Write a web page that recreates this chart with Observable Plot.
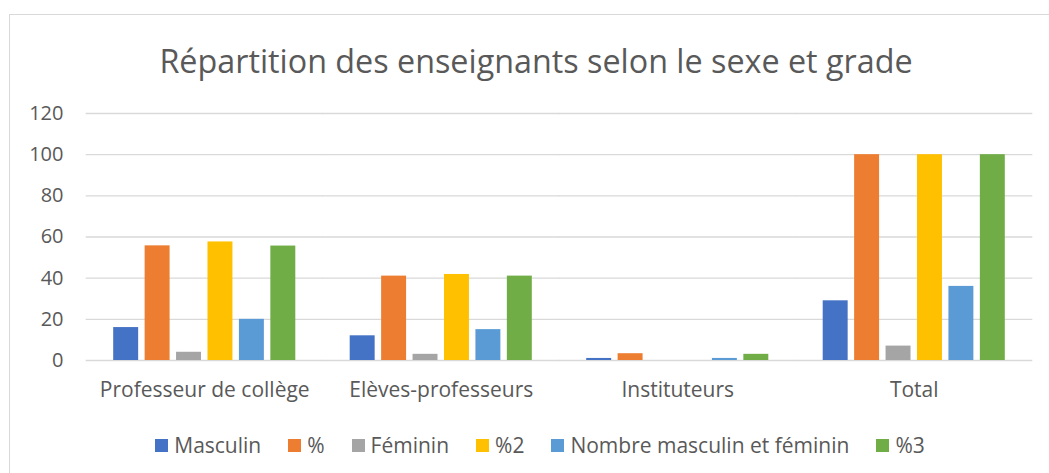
<!DOCTYPE html>
<html>
<head>
<meta charset="utf-8">
<script src="https://cdn.jsdelivr.net/npm/d3@7"></script>
<script src="https://cdn.jsdelivr.net/npm/@observablehq/plot@0.6"></script>
<style>
  html, body { margin: 0; padding: 0; background: #fff; }
  #wrap { position: relative; width: 1049px; height: 473px; overflow: hidden; font-family: "Open Sans", sans-serif; color: #595959; }
  #frame { position: absolute; left: 9px; top: 14px; width: 1100px; height: 500px; border: 1.3px solid #d9d9d9; box-sizing: border-box; }
  #title { position: absolute; left: 0; width: 1072px; top: 38px; text-align: center; font-size: 32.3px; line-height: 44px; color: #595959; }
  #chart { position: absolute; left: 0; top: 0; }
  #legend { position: absolute; left: 0; width: 1080px; top: 430px; display: flex; justify-content: center; font-size: 21px; line-height: 30px; color: #595959; }
  .item { display: flex; align-items: center; margin: 0 13.5px; }
  .sw { width: 13px; height: 13px; margin-right: 6px; }
</style>
</head>
<body>
<div id="wrap">
  <div id="frame"></div>
  <div id="title"></div>
  <div id="chart"></div>
  <div id="legend"></div>
</div>
<script>
const titleText = "Répartition des enseignants selon le sexe et grade";
const categories = ["Professeur de collège", "Elèves-professeurs", "Instituteurs", "Total"];
const seriesNames = ["Masculin", "%", "Féminin", "%2", "Nombre masculin et féminin", "%3"];
const masculin = [16, 12, 1, 29];
const pct1 = [55.7, 41, 3.3, 100];
const feminin = [4, 3, 0, 7];
const pct2 = [57.6, 41.8, 0, 100];
const nombre = [20, 15, 1, 36];
const pct3 = [55.6, 41, 3, 100];
const yTicks = [0, 20, 40, 60, 80, 100, 120];
const colors = ["#4472C4", "#ED7D31", "#A5A5A5", "#FFC000", "#5B9BD5", "#70AD47"];

const seriesValues = [masculin, pct1, feminin, pct2, nombre, pct3];
const data = [];
categories.forEach((c, i) => {
  seriesNames.forEach((s, j) => {
    data.push({cat: c, series: s, value: seriesValues[j][i]});
  });
});

document.getElementById("title").textContent = titleText;

const plotLeft = 86, plotRight = 1032;
const fxPadInner = 0.23, fxPadOuter = 0.115;
const stepFx = (plotRight - plotLeft) / (categories.length - fxPadInner + 2 * fxPadOuter);
const halfGap = stepFx * fxPadInner / 2 + 0.3;

const chart = Plot.plot({
  width: 1049,
  height: 473,
  marginLeft: plotLeft,
  marginRight: 1049 - plotRight,
  marginTop: 113,
  marginBottom: 113,
  style: {fontFamily: "Open Sans, sans-serif", color: "#595959", background: "transparent"},
  fx: {domain: categories, paddingInner: fxPadInner, paddingOuter: fxPadOuter, round: false, label: null},
  x: {domain: seriesNames, paddingInner: 0.206, paddingOuter: 0, round: false, axis: null},
  y: {domain: [0, 120], label: null},
  color: {domain: seriesNames, range: colors},
  marks: [
    Plot.ruleY(yTicks, {stroke: "#d9d9d9", strokeWidth: 1.3, insetLeft: -halfGap, insetRight: -halfGap}),
    Plot.barY(data, {fx: "cat", x: "series", y: "value", fill: "series"}),
    Plot.axisY(yTicks, {tickSize: 0, tickPadding: 23 + stepFx * fxPadOuter, fontSize: 20, label: null, fill: "#595959"}),
    Plot.axisFx({anchor: "bottom", tickSize: 0, tickPadding: 22, fontSize: 21, label: null, fill: "#595959"})
  ]
});
document.getElementById("chart").appendChild(chart);

const legend = document.getElementById("legend");
seriesNames.forEach((s, j) => {
  const item = document.createElement("div");
  item.className = "item";
  const sw = document.createElement("div");
  sw.className = "sw";
  sw.style.background = colors[j];
  const t = document.createElement("span");
  t.textContent = s;
  item.appendChild(sw);
  item.appendChild(t);
  legend.appendChild(item);
});
</script>
</body>
</html>
